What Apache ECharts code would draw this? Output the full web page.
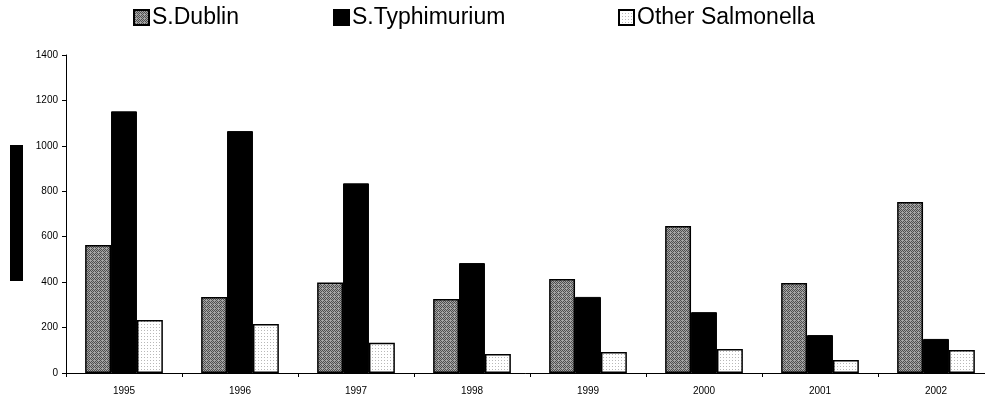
<!DOCTYPE html>
<html>
<head>
<meta charset="utf-8">
<script src="https://cdn.jsdelivr.net/npm/echarts@6/dist/echarts.min.js"></script>
<style>
  html, body { margin: 0; padding: 0; background: #fff; }
  #chart { width: 985px; height: 400px; }
</style>
</head>
<body>
<div id="chart"></div>
<script>
// Salmonella cases per year
const years = ['1995', '1996', '1997', '1998', '1999', '2000', '2001', '2002'];
const dublin = [563, 335, 398, 326, 414, 647, 396, 753];
const typhimurium = [1152, 1065, 835, 484, 335, 268, 167, 150];
const otherSalmonella = [233, 216, 133, 84, 92, 106, 57, 101];
const seriesNames = ['S.Dublin', 'S.Typhimurium', 'Other Salmonella'];

// Small tiled fills: dithered grey hatch and sparse dot screen
function makePattern(size, bg, fg, pick) {
  const c = document.createElement('canvas');
  c.width = size; c.height = size;
  const g = c.getContext('2d');
  g.fillStyle = bg; g.fillRect(0, 0, size, size);
  g.fillStyle = fg;
  for (let y = 0; y < size; y++) {
    for (let x = 0; x < size; x++) {
      if (pick(x, y)) g.fillRect(x, y, 1, 1);
    }
  }
  return { image: c, repeat: 'repeat' };
}
const hatchFill = makePattern(4, '#a4a4a4', '#4e4e4e', (x, y) => (x + y) % 2 === 0 && (x % 4 !== 2 || y % 4 !== 0));
const dotFill = makePattern(3, '#ffffff', '#b8b8b8', (x, y) => x === 0 && y === 0);

const chart = echarts.init(document.getElementById('chart'), null, { renderer: 'canvas' });

const barCommon = {
  type: 'bar',
  barGap: '0%',
  barCategoryGap: '33%'
};

// one legend block per series so each entry sits at its own spot
const legendLefts = [133, 333, 618];
const legends = seriesNames.map((name, i) => ({
  top: 6,
  left: legendLefts[i],
  padding: 0,
  itemWidth: 15,
  itemHeight: 15,
  icon: 'rect',
  textStyle: { fontSize: 23, color: '#000', padding: [2, 0, 0, -2] },
  data: [name]
}));

chart.setOption({
  animation: false,
  backgroundColor: '#ffffff',
  textStyle: { fontFamily: 'Liberation Sans, Arial, sans-serif' },
  legend: legends,
  graphic: [{
    type: 'rect',
    left: 10,
    top: 145,
    shape: { width: 13, height: 136 },
    style: { fill: '#000' }
  }],
  grid: { left: 66, top: 55, bottom: 27, width: 928, outerBoundsMode: 'none', containLabel: false },
  xAxis: {
    type: 'category',
    data: years,
    axisLine: { lineStyle: { color: '#000', width: 1 } },
    axisTick: { show: true, length: 4, alignWithLabel: false, lineStyle: { color: '#000' } },
    axisLabel: { color: '#000', fontSize: 10, margin: 13 }
  },
  yAxis: {
    type: 'value',
    min: 0,
    max: 1400,
    interval: 200,
    splitLine: { show: false },
    axisLine: { show: true, lineStyle: { color: '#000', width: 1 } },
    axisTick: { show: true, length: 4, lineStyle: { color: '#000' } },
    axisLabel: { color: '#000', fontSize: 10, margin: 8, formatter: v => String(v) }
  },
  series: [
    Object.assign({}, barCommon, {
      name: seriesNames[0],
      data: dublin,
      itemStyle: { color: hatchFill, borderColor: '#000', borderWidth: 1.5 }
    }),
    Object.assign({}, barCommon, {
      name: seriesNames[1],
      data: typhimurium,
      itemStyle: { color: '#000', borderColor: '#000', borderWidth: 1 }
    }),
    Object.assign({}, barCommon, {
      name: seriesNames[2],
      data: otherSalmonella,
      itemStyle: { color: dotFill, borderColor: '#000', borderWidth: 1.5 }
    })
  ]
});
</script>
</body>
</html>
